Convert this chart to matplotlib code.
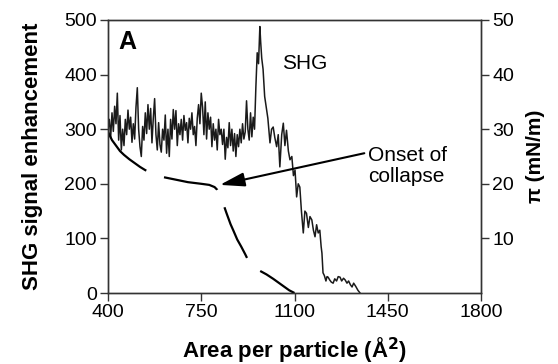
import matplotlib
matplotlib.use("Agg")
import matplotlib.pyplot as plt
import numpy as np

plt.rcParams['font.family'] = ['Liberation Sans', 'DejaVu Sans']

# SHG signal (left axis)
shg_x = list(range(400, 920, 5)) + [920, 925, 930, 935, 940, 945, 950, 955, 960, 965, 970, 973, 977,
        982, 988, 994, 1000, 1008, 1014, 1020, 1026, 1033, 1039, 1045, 1052, 1058, 1064, 1070,
        1077, 1083, 1090, 1096, 1102, 1108, 1114, 1120, 1126, 1133, 1139, 1145, 1152, 1158,
        1165, 1171, 1177, 1183, 1189, 1195, 1200, 1203, 1207, 1212, 1218, 1222, 1226, 1232,
        1238, 1245, 1251, 1258, 1264, 1271, 1277, 1284, 1290, 1297, 1303, 1310, 1316, 1322,
        1330, 1338, 1346]
shg_y = [300, 318, 285, 330, 296, 342, 310, 366, 280, 325, 262, 300, 270, 318, 290, 335,
         300, 322, 276, 310, 282, 340, 376, 300, 268, 250, 305, 280, 330, 292, 345, 300,
         338, 275, 320, 356, 290, 262, 312, 272, 258, 300, 280, 326, 256, 300, 250, 318,
         282, 336, 300, 334, 270, 310, 290, 318, 280, 325, 298, 312, 275, 320, 300, 330,
         290, 305, 270, 320, 345, 310, 366, 340, 290, 350, 282, 330, 300, 322, 268, 310,
         280, 300, 262, 318, 290, 300, 272, 300, 245, 285, 266, 312, 270, 300, 260, 292,
         250, 290, 268, 300, 275, 310, 282, 295,
         352, 300, 280, 330, 286, 322, 300, 377, 440, 420, 488, 460, 430,
         410, 360, 340, 320, 275, 300, 304, 285, 268, 290, 231, 290, 311, 270, 298,
         260, 244, 250, 215, 225, 176, 200, 194, 150, 110, 150, 146, 120, 140,
         134, 115, 103, 125, 110, 115, 85, 73, 37, 32, 22, 30, 29, 24,
         20, 18, 26, 22, 30, 29, 22, 27, 24, 18, 22, 15, 11, 18,
         12, 5, 0]

# Surface pressure isotherm (right axis)
pi_x = [400, 415, 430, 445, 460, 480, 500, 520, 540, 575, 610, 650, 700, 750, 780, 800,
        810, 818, 826, 835, 845, 860, 870, 885, 900, 915, 926, 945, 965, 995, 1020, 1040,
        1060, 1080, 1100]
pi_y = [29.5, 28.0, 27.0, 26.0, 25.3, 24.5, 23.8, 23.1, 22.5, 21.8, 21.2, 20.8, 20.3, 20.0,
        19.8, 19.4, 18.9, 18.2, 17.0, 16.0, 14.6, 12.6, 11.5, 9.8, 8.5, 7.1, 6.0, 4.9,
        4.2, 3.4, 2.6, 1.9, 1.2, 0.5, 0.0]

x_ticks = [400, 750, 1100, 1450, 1800]
left_ticks = [0, 100, 200, 300, 400, 500]
right_ticks = [10, 20, 30, 40, 50]

fig = plt.figure(figsize=(5.58, 3.64), dpi=100)
ax = fig.add_axes([108/558, 1 - 293/364, (481 - 108)/558, (293 - 20)/364])
ax2 = ax.twinx()

ax.plot(shg_x, shg_y, color='#1a1a1a', lw=1.1)
ax2.plot(pi_x, pi_y, color='black', lw=1.6, linestyle=(0, (25, 8.5)))

ax.set_xlim(400, 1800)
ax.set_ylim(0, 500)
ax2.set_ylim(0, 50)
ax.set_xticks(x_ticks)
ax.set_yticks(left_ticks)
ax2.set_yticks(right_ticks)

for a in (ax, ax2):
    for s in a.spines.values():
        s.set_linewidth(1.0)
        s.set_color('#333333')
ax.tick_params(axis='both', direction='out', length=6, width=1.0, color='#333333',
               labelsize=14, pad=2)
ax2.tick_params(axis='y', direction='out', length=6, width=1.0, color='#333333',
                labelsize=14, pad=2)

ax.set_xlabel('Area per particle (Å$^\\mathbf{2}$)', fontsize=16, fontweight='bold', labelpad=10)
ax.set_ylabel('SHG signal enhancement', fontsize=16, fontweight='bold', labelpad=15)
ax2.set_ylabel('π (mN/m)', fontsize=15, fontweight='bold', labelpad=9)

ax.text(0.027, 0.965, 'A', transform=ax.transAxes, fontsize=18, fontweight='bold',
        va='top', ha='left')
ax.text(1053, 421, 'SHG', fontsize=15, va='center', ha='left')
ax.text(1376, 232, 'Onset of\ncollapse', fontsize=15, va='center', ha='left', linespacing=1.15)
ax.annotate('', xy=(820, 198), xytext=(1362, 256),
            arrowprops=dict(arrowstyle='-|>,head_length=0.6,head_width=0.17',
                            mutation_scale=25, lw=1.5, color='black',
                            shrinkA=0, shrinkB=0))

fig.savefig('out.png', dpi=100)
